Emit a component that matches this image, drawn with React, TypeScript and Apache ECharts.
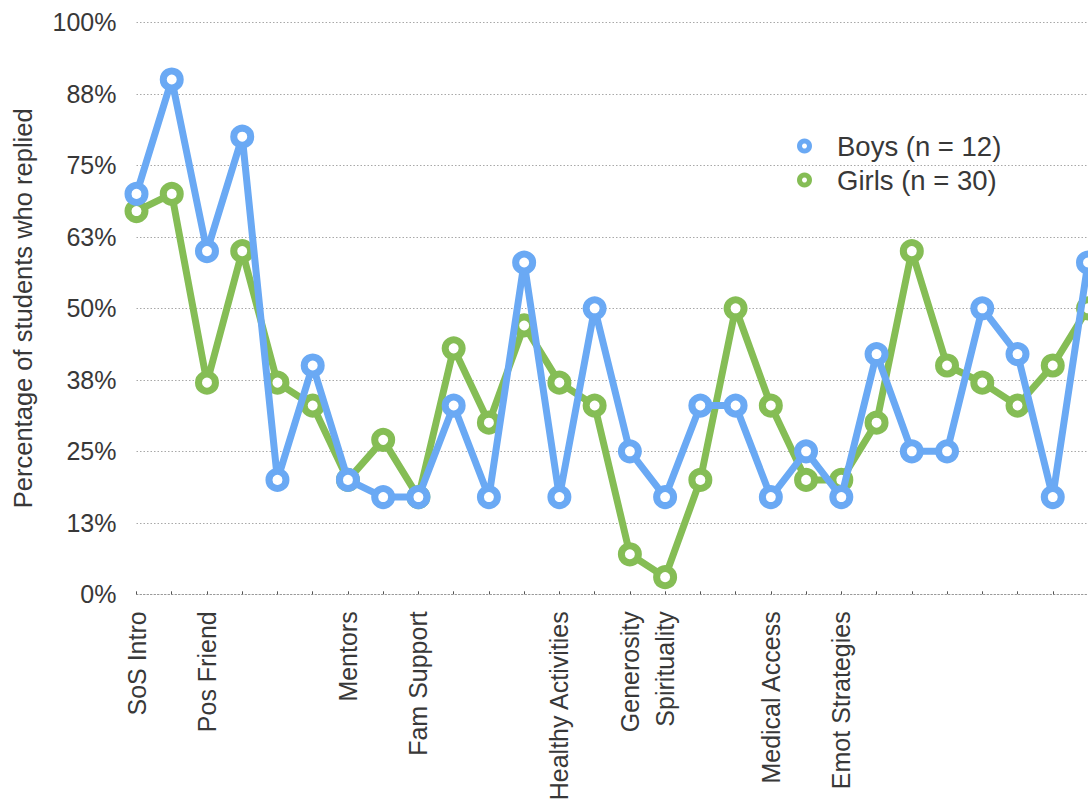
import React, { useEffect, useRef } from "react";
import * as echarts from "echarts";

// Topic order along the x axis; only some topics carry a printed label.
const categories: string[] = [
  "SoS Intro", "", "Pos Friend", "", "", "", "Mentors", "", "Fam Support", "",
  "", "", "Healthy Activities", "", "Generosity", "Spirituality", "", "",
  "Medical Access", "", "Emot Strategies", "", "", "", "", "", "", "",
];

// Percentage of students who replied, per topic.
const boysValues: number[] = [
  70, 90, 60, 80, 20, 40, 20, 17, 17, 33, 17, 58, 17, 50, 25, 17, 33, 33,
  17, 25, 17, 42, 25, 25, 50, 42, 17, 58,
];
const girlsValues: number[] = [
  67, 70, 37, 60, 37, 33, 20, 27, 17, 43, 30, 47, 37, 33, 7, 3, 20, 50,
  33, 20, 20, 30, 60, 40, 37, 33, 40, 50,
];

const boysName = "Boys (n = 12)";
const girlsName = "Girls (n = 30)";
const yAxisTitle = "Percentage of students who replied";

const BLUE = "#6aa9f4";
const GREEN = "#85bd55";
const TEXT = "#383838";
const FONT = "'Liberation Sans', Helvetica, Arial, sans-serif";

export default function App() {
  const ref = useRef<HTMLDivElement>(null);

  useEffect(() => {
    if (!ref.current) return;
    const chart = echarts.init(ref.current, undefined, { renderer: "svg" });

    const lineSeries = (name: string, data: number[], color: string, z: number) => ({
      name,
      type: "line",
      data,
      z,
      symbol: "circle",
      symbolSize: 17,
      showAllSymbol: true,
      clip: false,
      lineStyle: { color, width: 7 },
      itemStyle: { color: "#ffffff", borderColor: color, borderWidth: 7 },
      emphasis: { disabled: true },
    });

    chart.setOption({
      animation: false,
      textStyle: { fontFamily: FONT },
      grid: { left: 136.5, right: -3, top: 22.3, bottom: 210.7, containLabel: false },
      legend: {
        orient: "vertical",
        left: 792,
        top: 126,
        itemWidth: 55,
        itemHeight: 10,
        itemGap: 4,
        textStyle: { fontSize: 27.5, color: TEXT, lineHeight: 30, fontFamily: FONT },
        data: [
          { name: boysName, icon: "circle", itemStyle: { color: "#ffffff", borderColor: BLUE, borderWidth: 5 } },
          { name: girlsName, icon: "circle", itemStyle: { color: "#ffffff", borderColor: GREEN, borderWidth: 5 } },
        ],
      },
      xAxis: {
        type: "category",
        data: categories,
        boundaryGap: false,
        axisLine: { show: true, lineStyle: { color: "#999999", width: 1, type: [1.5, 2] } },
        axisTick: { show: true, inside: true, length: 3, interval: 0, lineStyle: { color: "#555555" } },
        axisLabel: {
          interval: 0,
          rotate: 90,
          margin: 17,
          fontSize: 25,
          color: TEXT,
          fontFamily: FONT,
        },
      },
      yAxis: {
        type: "value",
        min: 0,
        max: 100,
        interval: 12.5,
        name: yAxisTitle,
        nameLocation: "middle",
        nameGap: 101,
        nameTextStyle: { fontSize: 25.5, color: TEXT, fontFamily: FONT },
        axisLine: { show: false },
        axisTick: { show: false },
        axisLabel: {
          margin: 20,
          fontSize: 25,
          color: TEXT,
          fontFamily: FONT,
          formatter: (v: number) => `${Math.round(v)}%`,
        },
        splitLine: { show: true, lineStyle: { color: "#a8a8a8", width: 1, type: [1.5, 2] } },
      },
      series: [
        lineSeries(girlsName, girlsValues, GREEN, 2),
        lineSeries(boysName, boysValues, BLUE, 3),
      ],
    });

    return () => chart.dispose();
  }, []);

  return (
    <div
      ref={ref}
      style={{ position: "fixed", left: 0, top: 0, width: 1088, height: 805, background: "#ffffff" }}
    />
  );
}
